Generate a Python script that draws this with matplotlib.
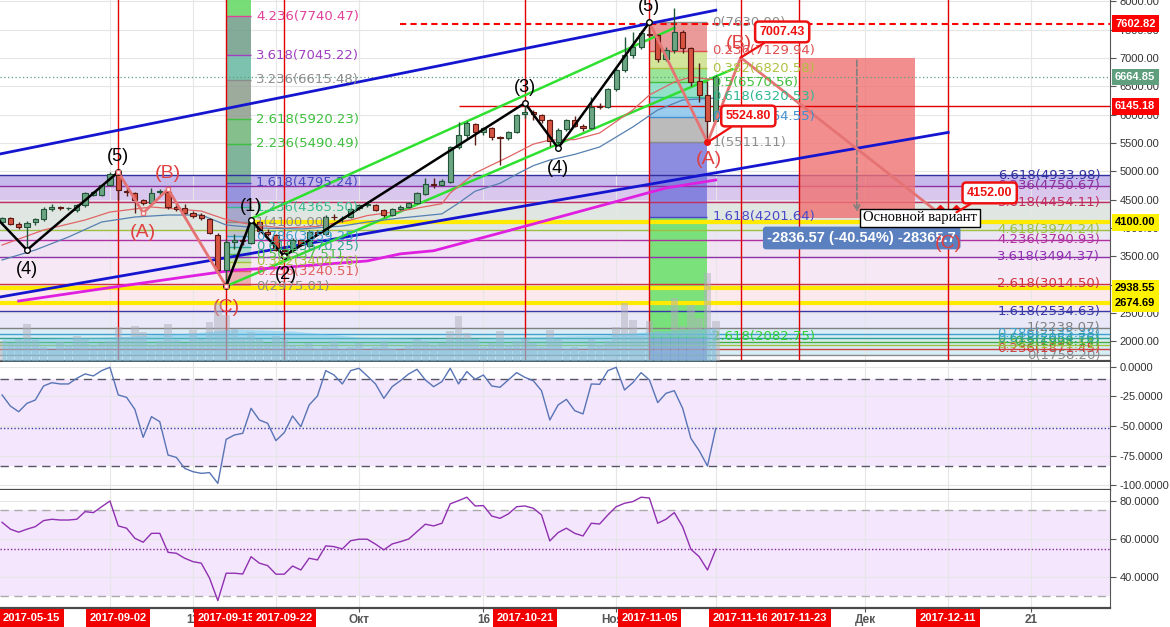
#!/usr/bin/env python3
# BTC/USD daily with Elliott wave markup, Williams %R and RSI panels

import numpy as np
import pandas as pd
import matplotlib
matplotlib.use("Agg")
import matplotlib.pyplot as plt
from matplotlib.patches import Rectangle

plt.rcParams["font.family"] = ["Liberation Sans", "DejaVu Sans"]

ORIGIN = pd.Timestamp("2017-10-01")

# daily candles 2017-08-19 .. 2017-11-13
first_day = "2017-08-19"
opens = [4110, 4175, 4065, 4015, 4100, 4155, 4335, 4365, 4350, 4320,
         4400, 4590, 4590, 4760, 4960, 4660, 4620, 4500, 4440, 4630,
         4640, 4370, 4350, 4260, 4225, 4160, 3880, 3260, 3760, 3790,
         3730, 4110, 3937, 3880, 3620, 3615, 3790, 3680, 3935, 3900,
         4200, 4170, 4190, 4350, 4410, 4407, 4319, 4230, 4331, 4366,
         4437, 4600, 4770, 4760, 4820, 5435, 5642, 5840, 5700, 5760,
         5600, 5583, 5700, 6012, 6040, 5995, 5906, 5524, 5742, 5906,
         5800, 5760, 6150, 6141, 6448, 6788, 7053, 7200, 7420, 7406,
         6977, 7141, 7464, 7170, 6600, 6347, 5894]
highs = [4190, 4200, 4100, 4120, 4180, 4370, 4420, 4390, 4380, 4420,
         4630, 4660, 4770, 4990, 4990, 4700, 4640, 4520, 4700, 4690,
         4690, 4400, 4420, 4300, 4260, 4180, 3920, 3800, 3900, 3860,
         4130, 4130, 3980, 3900, 3690, 3820, 3810, 3960, 3970, 4230,
         4240, 4220, 4360, 4420, 4450, 4420, 4340, 4350, 4400, 4460,
         4640, 4880, 4890, 4860, 5450, 5876, 5880, 5860, 5790, 5790,
         5620, 5720, 6020, 6206, 6080, 6020, 5930, 5760, 5920, 5980,
         5840, 6317, 6200, 6470, 6830, 7370, 7460, 7480, 7630, 7420,
         7200, 7880, 7500, 7200, 6912, 6600, 6700]
lows = [4050, 4050, 3990, 3610, 4060, 4130, 4300, 4310, 4320, 4280,
        4380, 4560, 4570, 4740, 4500, 4560, 4270, 4400, 4420, 4590,
        4330, 4300, 4240, 4180, 4140, 3890, 3200, 2975, 3630, 3700,
        3720, 3900, 3860, 3590, 3507, 3570, 3680, 3660, 3870, 3880,
        4140, 4110, 4170, 4320, 4380, 4300, 4200, 4210, 4320, 4350,
        4420, 4580, 4700, 4740, 4800, 5400, 5580, 5470, 5640, 5560,
        5110, 5560, 5680, 5950, 5900, 5850, 5450, 5412, 5720, 5780,
        5720, 5740, 6100, 6120, 6420, 6750, 7000, 7150, 7380, 6930,
        6940, 7080, 7080, 6500, 6224, 5511, 5880]
closes = [4175, 4070, 4015, 4095, 4160, 4330, 4365, 4350, 4355, 4400,
          4610, 4640, 4760, 4960, 4670, 4640, 4500, 4440, 4620, 4645,
          4370, 4340, 4260, 4210, 4170, 3910, 3260, 3760, 3790, 3770,
          4100, 3940, 3900, 3620, 3600, 3790, 3700, 3930, 3900, 4200,
          4190, 4180, 4330, 4400, 4420, 4320, 4230, 4330, 4375, 4437,
          4613, 4771, 4760, 4836, 5435, 5642, 5848, 5700, 5760, 5601,
          5590, 5700, 5995, 6040, 6010, 5906, 5530, 5730, 5906, 5800,
          5760, 6141, 6130, 6448, 6788, 7053, 7200, 7436, 7410, 6977,
          7141, 7464, 7170, 6582, 6347, 5894, 6664.85]
volume_k = [20, 18, 22, 37, 21, 14, 11, 19, 16, 25,
            22, 16, 18, 20, 34, 24, 35, 29, 16, 20,
            37, 21, 18, 31, 22, 39, 58, 46, 32, 24,
            29, 22, 18, 25, 21, 16, 14, 18, 12, 15,
            20, 12, 14, 18, 10, 14, 20, 12, 11, 16,
            22, 20, 16, 18, 30, 45, 28, 22, 14, 18,
            30, 16, 20, 22, 18, 14, 31, 22, 12, 14,
            10, 22, 16, 20, 34, 58, 41, 25, 40, 30,
            28, 63, 35, 56, 43, 88, 40]
wpr = [-23.7, -33.1, -37.9, -30.8, -28.0, -16.1, -13.3, -14.4, -14.4, -9.6,
       -5.9, -7.6, -3.1, -0.3, -23.7, -25.7, -35.9, -59.6, -42.1, -46.3,
       -74.6, -76.6, -85.9, -88.7, -90.1, -89.5, -98.6, -61.3, -57.6, -56.2,
       -35.0, -44.9, -47.7, -62.4, -55.6, -41.5, -50.6, -32.2, -24.6, -3.1,
       -6.8, -14.4, -3.1, -1.1, -7.6, -14.4, -26.6, -16.7, -11.6, -5.9,
       -2.0, -11.0, -16.7, -12.4, -1.1, -14.4, -3.9, -10.5, -6.8, -16.1,
       -17.2, -11.0, -4.8, -8.8, -11.6, -20.1, -44.9, -32.2, -27.4, -37.0,
       -39.8, -14.4, -14.7, -3.1, -0.3, -19.5, -13.3, -4.8, -11.0, -30.2,
       -22.3, -20.1, -35.0, -60.5, -70.9, -83.9, -52.0]
rsi = [68.6, 65.0, 63.4, 65.0, 66.3, 69.5, 70.2, 69.8, 69.8, 70.2,
       74.2, 73.7, 76.8, 79.8, 66.7, 65.5, 60.2, 58.1, 62.8, 62.8,
       52.8, 52.3, 49.7, 47.9, 47.1, 39.2, 27.4, 41.8, 41.8, 41.4,
       50.5, 47.1, 45.8, 41.3, 41.3, 45.6, 43.5, 49.7, 48.8, 56.2,
       55.8, 54.6, 58.9, 59.7, 59.7, 57.1, 54.1, 57.2, 58.4, 59.8,
       63.7, 67.6, 66.7, 68.1, 78.3, 80.0, 81.8, 77.2, 77.4, 71.9,
       70.7, 73.0, 76.8, 77.2, 76.0, 72.5, 58.8, 63.2, 65.5, 62.8,
       61.4, 68.1, 67.7, 72.5, 76.8, 78.6, 79.5, 81.8, 81.4, 68.1,
       70.2, 73.7, 66.3, 54.4, 50.5, 43.5, 54.4]
wpr_bands = [-10, -84]
wpr_mid = -51.5
rsi_bands = [30, 75]
rsi_mid = 54.5

# moving averages
ma_red_dates = ["2017-08-19", "2017-08-24", "2017-08-29", "2017-09-01", "2017-09-06", "2017-09-12",
                "2017-09-15", "2017-09-18", "2017-09-22", "2017-09-26", "2017-09-30", "2017-10-02",
                "2017-10-06", "2017-10-11", "2017-10-12", "2017-10-15", "2017-10-19", "2017-10-22",
                "2017-10-24", "2017-10-27", "2017-10-30", "2017-11-03", "2017-11-05", "2017-11-08",
                "2017-11-10", "2017-11-13"]
ma_red = [3700, 3966, 4142, 4283, 4372, 4300, 4150, 4060, 4000, 4030, 4142, 4220, 4300,
          4430, 4618, 4971, 5254, 5480, 5553, 5560, 5677, 6083, 6347, 6577, 6665, 6612]
ma_blue_dates = ["2017-08-19", "2017-08-23", "2017-08-27", "2017-08-31", "2017-09-04", "2017-09-08",
                 "2017-09-12", "2017-09-15", "2017-09-19", "2017-09-24", "2017-09-29", "2017-10-02",
                 "2017-10-06", "2017-10-11", "2017-10-13", "2017-10-15", "2017-10-18", "2017-10-20",
                 "2017-10-22", "2017-10-24", "2017-10-27", "2017-10-30", "2017-11-03", "2017-11-06",
                 "2017-11-09", "2017-11-13"]
ma_blue = [3437, 3613, 3842, 4107, 4195, 4230, 4230, 4054, 4001, 3984, 4036, 4107, 4177,
           4250, 4440, 4650, 4790, 4950, 5100, 5200, 5300, 5430, 5783, 6083, 6259, 6294]
ma_long_dates = ["2017-08-21", "2017-08-30", "2017-09-10", "2017-09-16", "2017-09-21", "2017-10-02",
                 "2017-10-06", "2017-10-10", "2017-10-18", "2017-10-26", "2017-11-03", "2017-11-07",
                 "2017-11-13"]
ma_long = [2713, 2907, 3137, 3260, 3296, 3420, 3545, 3600, 3913, 4230, 4548, 4707, 4848]
vol_ma_dates = ["2017-08-19", "2017-09-01", "2017-09-11", "2017-09-16", "2017-09-23", "2017-10-01",
                "2017-10-11", "2017-10-21", "2017-10-31", "2017-11-06", "2017-11-13"]
vol_ma = [22, 24, 28, 32, 30, 24, 22, 24, 26, 30, 33]

# fibonacci tools
fib1_levels = ["0", "0.236", "0.382", "0.5", "0.618", "0.786", "1", "1.236", "1.618",
               "2.236", "2.618", "3.236", "3.618", "4.236"]
fib1_prices = [2975.01, 3240.51, 3404.76, 3537.51, 3670.25, 3859.25, 4100.00, 4365.50,
               4795.24, 5490.49, 5920.23, 6615.48, 7045.22, 7740.47]
fib1_colors = ["#8c8c8c", "#e06060", "#a8c040", "#4cbf4c", "#30a890", "#3fa0c8", "#8c8c8c",
               "#38b890", "#4848c0", "#40c040", "#40c040", "#8c8c8c", "#a040c0", "#e0409a"]
fib1_bands = ["#e8a4a8", "#d8e4a8", "#b8e0b0", "#a8dcc8", "#a8d0e8", "#b8bcc8", "#9c9cc8",
              "#8c8cdc", "#6aa88a", "#70b478", "#8c9c8c", "#66b8a0", "#6e9c88", "#60d860"]
fib1_span = ["2017-09-15", "2017-09-18"]

fib2_levels = ["0", "0.236", "0.382", "0.5", "0.618", "0.786", "1", "1.618", "2.618"]
fib2_prices = [7630.00, 7129.94, 6820.58, 6570.56, 6320.53, 5964.55, 5511.11, 4201.64, 2082.75]
fib2_colors = ["#8c8c8c", "#e05050", "#b0c040", "#40c040", "#30b890", "#4090d0", "#8c8c8c",
               "#4848c8", "#30d030"]
fib2_bands = ["#e88888", "#cce08a", "#88e088", "#80dcc0", "#88c4ec", "#b0b0b0", "#7878dc",
              "#66e066", "#8a80d8"]
fib2_span = ["2017-11-05", "2017-11-12"]

fib3_levels = ["0", "0.236", "0.382", "0.5", "0.618", "0.786", "1", "1.618", "2.618",
               "3.618", "4.236", "4.618", "5.618", "6.236", "6.618"]
fib3_prices = [1758.20, 1871.45, 1941.51, 1998.14, 2054.76, 2135.38, 2238.07, 2534.63,
               3014.50, 3494.37, 3790.93, 3974.24, 4454.11, 4750.67, 4933.98]
fib3_colors = ["#8c8c8c", "#d04040", "#a0c040", "#40b040", "#30a090", "#40a0d0", "#808080",
               "#3838a8", "#d03040", "#9030b0", "#b030a0", "#9cc040", "#c03060", "#9030a0",
               "#3030a0"]
fib3_bands = ["#d6edf5", "#d6edf5", "#d6edf5", "#d6edf5", "#d6edf5", "#dcecf6", "#e8e8f8",
              "#fbe9ee", "#f6e8f4", "#f1e3f4", "#ebe6f4", "#e0e6e2", "#d9c7ee", "#c6baec"]

# elliott waves
wave_l_dates = ["2017-08-18", "2017-08-22", "2017-09-02"]
wave_l = [4230, 3613, 4990]
abc_l_dates = ["2017-09-02", "2017-09-05", "2017-09-08", "2017-09-15"]
abc_l = [4990, 4266, 4689, 2975.01]
impulse_dates = ["2017-09-15", "2017-09-18", "2017-09-22", "2017-10-21", "2017-10-25", "2017-11-05"]
impulse = [2975.01, 4140, 3507, 6206, 5412, 7630]
abc_r_dates = ["2017-11-05", "2017-11-12", "2017-11-16", "2017-12-10"]
abc_r = [7630, 5511.11, 7007.43, 4250]

black_labels = ["(4)", "(5)", "(1)", "(2)", "(3)", "(4)", "(5)"]
black_label_dates = ["2017-08-22", "2017-09-02", "2017-09-18", "2017-09-22", "2017-10-21",
                     "2017-10-25", "2017-11-05"]
black_label_prices = [3613, 4990, 4140, 3507, 6206, 5412, 7630]
black_label_off = [(0, -19), (0, 15), (0, 14), (2, -18), (0, 16), (0, -20), (0, 16)]
red_labels = ["(A)", "(B)", "(C)", "(A)", "(B)", "(C)"]
red_label_dates = ["2017-09-05", "2017-09-08", "2017-09-15", "2017-11-12", "2017-11-16", "2017-12-10"]
red_label_prices = [4266, 4689, 2975.01, 5511.11, 7007.43, 4250]
red_label_off = [(0, -20), (0, 16), (0, -21), (1, -17), (-2, 14), (8, -30)]

# trend channels
blue_up_dates, blue_up = ["2017-08-18", "2017-11-13"], [5285, 7843]
blue_lo_dates, blue_lo = ["2017-08-18", "2017-12-11"], [2765, 5687]
green_up_dates, green_up = ["2017-09-18", "2017-11-08"], [4165, 7530]
green_lo_dates, green_lo = ["2017-09-15", "2017-11-15"], [2975.01, 6800]

# vertical marker lines and bottom date tags
vline_dates = ["2017-09-02", "2017-09-15", "2017-09-22", "2017-10-21", "2017-11-05",
               "2017-11-16", "2017-11-23", "2017-12-11"]
tick_dates = ["2017-09-01", "2017-09-11", "2017-09-21", "2017-10-01", "2017-10-16",
              "2017-11-01", "2017-11-13", "2017-12-01", "2017-12-11", "2017-12-21"]
tick_names = ["Сен", "11", "21", "Окт", "16", "Нояб", "13", "Дек", "11", "21"]

price_tags = [7602.82, 6664.85, 6145.18, 4100.00, 2938.55, 2674.69]
tag_bg = ["#ff0000", "#5f9f7d", "#ff0000", "#fff200", "#fff200", "#fff200"]
tag_fg = ["white", "white", "white", "black", "black", "black"]

target_top, target_bottom = 7007.43, 4170.86
target_span = ["2017-11-23", "2017-12-07"]


def dnum(s):
    return np.asarray((pd.to_datetime(s) - ORIGIN) / pd.Timedelta(days=1), dtype=float)


def panel(top, bottom):
    return [0, (627 - bottom) / 627, 1110 / 1170, (bottom - top) / 627]


fig = plt.figure(figsize=(11.7, 6.27), dpi=100)
fig.patch.set_facecolor("white")
ax = fig.add_axes(panel(0, 361))
ax_wr = fig.add_axes(panel(362, 490), sharex=ax)
ax_rsi = fig.add_axes(panel(490, 608), sharex=ax)
ax_vol = ax.twinx()

XMIN, XMAX = -43.25, 90.5
ax.set_xlim(XMIN, XMAX)
ax.set_ylim(1655, 8023)

x = dnum(pd.date_range(first_day, periods=len(opens)))
o, h, l, c = map(np.array, (opens, highs, lows, closes))
up = c >= o

# background fib bands (full width)
for i in range(len(fib3_prices) - 1):
    ax.axhspan(fib3_prices[i], fib3_prices[i + 1], color=fib3_bands[i], lw=0, zorder=0.2)
for p, col in zip(fib3_prices, fib3_colors):
    ax.axhline(p, color=col, lw=1, zorder=1.2)
for lev, p, col in zip(fib3_levels, fib3_prices, fib3_colors):
    ax.text(dnum("2017-12-29 08:00"), p, f"{lev}({p:.2f})", color=col, fontsize=9.5,
            family="DejaVu Sans", ha="right", va="center", zorder=6)

# left fib column
fx = dnum(fib1_span)
edges1 = fib1_prices + [8100]
for i, col in enumerate(fib1_bands):
    ax.fill_between(fx, edges1[i], edges1[i + 1], color=col, alpha=0.85, lw=0, zorder=1)
for p, col in zip(fib1_prices, fib1_colors):
    ax.hlines(p, fx[0], fx[1], color=col, lw=1, zorder=1.1)
for lev, p, col in zip(fib1_levels, fib1_prices, fib1_colors):
    ax.text(fx[1] + 0.6, p, f"{lev}({p:.2f})", color=col, fontsize=9.5, family="DejaVu Sans",
            ha="left", va="center", zorder=6)

# right fib column
gx = dnum(fib2_span)
edges2 = fib2_prices + [1600]
for i, col in enumerate(fib2_bands):
    ax.fill_between(gx, edges2[i], edges2[i + 1], color=col, alpha=0.85, lw=0, zorder=1)
for p, col in zip(fib2_prices, fib2_colors):
    ax.hlines(p, gx[0], gx[1], color=col, lw=1, zorder=1.1)
for lev, p, col in zip(fib2_levels, fib2_prices, fib2_colors):
    ax.text(gx[1] + 0.6, p, f"{lev}({p:.2f})", color=col, fontsize=9.5, family="DejaVu Sans",
            ha="left", va="center", zorder=6)

# grid
ticks_x = dnum(tick_dates)
for a in (ax, ax_wr, ax_rsi):
    a.set_axisbelow(True)
    a.set_xticks(ticks_x)
    a.grid(True, color="#e6e6e6", lw=0.8)

# horizontal levels
ax.hlines(7602.82, dnum("2017-10-06"), XMAX, color="#ff0000", ls=(0, (3, 2)), lw=1.5, zorder=2)
ax.hlines(6145.18, dnum("2017-10-13"), XMAX, color="#e00000", lw=1, zorder=2)
ax.axhline(6664.85, color="#5f9f7d", ls=(0, (1, 2)), lw=0.9, zorder=2)
ax.hlines(4100.00, dnum("2017-09-18"), XMAX, color="#ffea00", lw=3, zorder=2)
ax.axhline(2938.55, color="#ffea00", lw=3, zorder=2)
ax.axhline(2674.69, color="#ffea00", lw=3, zorder=2)

# vertical red markers
for d in dnum(vline_dates):
    ax.axvline(d, color="#e00000", lw=1, zorder=2)

# target box
tx = dnum(target_span)
ax.add_patch(Rectangle((tx[0], target_bottom), tx[1] - tx[0], target_top - target_bottom,
                       fc="#f07272", ec="none", alpha=0.8, zorder=1.5))
ax.annotate("", xy=(dnum("2017-11-30"), target_bottom + 60), xytext=(dnum("2017-11-30"), target_top),
            arrowprops=dict(arrowstyle="->", color="#808080", ls="--", lw=1.2), zorder=2)

# channels and moving averages
ax.plot(dnum(blue_up_dates), blue_up, color="#1515d0", lw=2, zorder=3)
ax.plot(dnum(blue_lo_dates), blue_lo, color="#1515d0", lw=2, zorder=3)
ax.plot(dnum(green_up_dates), green_up, color="#30e030", lw=1.8, zorder=3)
ax.plot(dnum(green_lo_dates), green_lo, color="#30e030", lw=1.8, zorder=3)
ax.plot(dnum(ma_long_dates), ma_long, color="#e020e0", lw=2, zorder=3)
ax.plot(dnum(ma_red_dates), ma_red, color="#e06666", lw=0.9, zorder=3)
ax.plot(dnum(ma_blue_dates), ma_blue, color="#5580b0", lw=0.9, zorder=3)

# candles
wick_col = np.where(up, "#225437", "#5b1a13")
body_col = np.where(up, "#6ba583", "#d75442")
ax.vlines(x, l, h, colors=wick_col, lw=1, zorder=4)
ax.bar(x, np.maximum(np.abs(c - o), 8), bottom=np.minimum(o, c), width=0.62, color=body_col,
       edgecolor=wick_col, linewidth=0.8, zorder=5)

# waves
ax.plot(dnum(wave_l_dates), wave_l, color="black", lw=1.8, zorder=5.5)
ax.plot(dnum(impulse_dates), impulse, color="black", lw=1.8, zorder=5.5)
ax.plot(dnum(abc_l_dates), abc_l, color="#e57373", lw=2, zorder=5.5)
ax.plot(dnum(abc_r_dates), abc_r, color="#e57373", lw=2, zorder=5.5)
ax.plot(dnum(impulse_dates), impulse, "o", ms=4, mfc="white", mec="black", zorder=5.6)
ax.plot(dnum(wave_l_dates[1:]), wave_l[1:], "o", ms=4, mfc="white", mec="black", zorder=5.6)
ax.plot(dnum(abc_l_dates), abc_l, "s", ms=3.5, mfc="white", mec="#e57373", zorder=5.6)
ax.plot(dnum(abc_r_dates[1:2]), abc_r[1:2], "o", ms=4, color="#ee1111", zorder=5.6)
ax.plot(dnum(["2017-12-10", "2017-12-12"]), [4280, 4280], "D", ms=7, color="#ee1111", zorder=5.6)

for t, d, p, off in zip(black_labels, dnum(black_label_dates), black_label_prices, black_label_off):
    ax.annotate(t, (d, p), xytext=off, textcoords="offset pixels", ha="center", va="center",
                fontsize=13, color="black", zorder=7, annotation_clip=False)
for t, d, p, off in zip(red_labels, dnum(red_label_dates), red_label_prices, red_label_off):
    ax.annotate(t, (d, p), xytext=off, textcoords="offset pixels", ha="center", va="center",
                fontsize=14, color="#e04040", zorder=8, annotation_clip=False)

# measure label and note
ax.text(dnum("2017-11-30 14:00"), 3825, "-2836.57 (-40.54%) -28365.7", color="white",
        fontsize=10.5, fontweight="bold", ha="center", va="center", zorder=7,
        bbox=dict(boxstyle="round,pad=0.3,rounding_size=0.2", fc="#5b80c0", ec="none"))
ax.text(dnum("2017-12-07 14:00"), 4178, "Основной вариант", family="Liberation Serif",
        fontsize=10.5, ha="center", va="center", zorder=9,
        bbox=dict(boxstyle="square,pad=0.2", fc="white", ec="black", lw=1))

# callouts
callouts = [("7007.43", "2017-11-16", 7007.43, "2017-11-21", 7460),
            ("5524.80", "2017-11-12", 5511.11, "2017-11-16 22:00", 5977),
            ("4152.00", "2017-12-12", 4280, "2017-12-16", 4620)]
for txt, pd_, pp, td, tp in callouts:
    ax.annotate(txt, (dnum(pd_), pp), xytext=(dnum(td), tp), ha="center", va="center",
                fontsize=9, fontweight="bold", color="#ee1111", zorder=9,
                bbox=dict(boxstyle="round,pad=0.35,rounding_size=0.3", fc="white", ec="#ee1111", lw=1.8),
                arrowprops=dict(arrowstyle="-", color="#ee1111", lw=1.6, shrinkA=0, shrinkB=0))

# volume
ax_vol.bar(x, volume_k, width=0.9, color="#b0b0bc", alpha=0.5, zorder=1)
ax_vol.fill_between(dnum(vol_ma_dates), 0, vol_ma, color="#6cc4e8", alpha=0.45, lw=0)
ax_vol.set_ylim(0, 361)
ax_vol.set_xlim(XMIN, XMAX)
ax_vol.axis("off")

# price axis
ax.yaxis.tick_right()
ax.set_yticks(np.arange(2000, 8001, 500))
ax.set_yticklabels([f"{v:.2f}" for v in np.arange(2000, 8001, 500)])
for p, bg, fg in zip(price_tags, tag_bg, tag_fg):
    ax.annotate(f"{p:.2f}", (1, p), xycoords=("axes fraction", "data"), xytext=(5, 0),
                textcoords="offset pixels", ha="left", va="center", fontsize=8, color=fg,
                fontweight="bold", zorder=10, annotation_clip=False,
                bbox=dict(boxstyle="square,pad=0.3", fc=bg, ec="none"))

# Williams %R
ax_wr.axhspan(wpr_bands[1], wpr_bands[0], color="#f3e6fd", lw=0, zorder=0.1)
for b in wpr_bands:
    ax_wr.axhline(b, color="#555566", ls=(0, (6, 4)), lw=1)
ax_wr.axhline(wpr_mid, color="#4040a0", ls=(0, (1, 1.5)), lw=1)
ax_wr.plot(x, wpr, color="#5874b4", lw=1)
ax_wr.set_ylim(-104.2, 4.2)
ax_wr.yaxis.tick_right()
ax_wr.set_yticks([0, -25, -50, -75, -100])
ax_wr.set_yticklabels(["0.0000", "-25.0000", "-50.0000", "-75.0000", "-100.0000"])

# RSI
ax_rsi.axhspan(rsi_bands[0], rsi_bands[1], color="#f3e6fd", lw=0, zorder=0.1)
for b in rsi_bands:
    ax_rsi.axhline(b, color="#aaaaaa", ls=(0, (6, 4)), lw=1)
ax_rsi.axhline(rsi_mid, color="#8a2a9a", ls=(0, (1, 1.5)), lw=1)
ax_rsi.plot(x, rsi, color="#9030b0", lw=1)
ax_rsi.set_ylim(23.5, 85.6)
ax_rsi.yaxis.tick_right()
ax_rsi.set_yticks([80, 60, 40])
ax_rsi.set_yticklabels(["80.0000", "60.0000", "40.0000"])

for a in (ax, ax_wr, ax_rsi):
    a.spines["top"].set_visible(False)
    a.spines["left"].set_visible(False)
    a.spines["right"].set_color("#555555")
    a.spines["bottom"].set_color("#4a4a4a")
    a.spines["bottom"].set_linewidth(1.6)
    a.tick_params(axis="y", which="both", length=4, pad=3, labelsize=8, colors="#555555",
                  labelcolor="#333333")
for a in (ax, ax_wr):
    a.tick_params(axis="x", length=0, labelbottom=False)

ax_rsi.set_xticks(ticks_x)
ax_rsi.set_xticklabels(tick_names)
ax_rsi.tick_params(axis="x", length=3, pad=1.5, labelsize=8.5, colors="#555555", labelcolor="#555555")
for t in ax_rsi.get_xticklabels():
    t.set_fontweight("bold")
ax_rsi.set_xlim(XMIN, XMAX)

# red date tags under the axis
for d, name in zip(dnum(vline_dates), vline_dates):
    ax_rsi.annotate(name, (d, 0), xycoords=("data", "axes fraction"), xytext=(0, -10),
                    textcoords="offset pixels", ha="center", va="center", fontsize=8,
                    fontweight="bold", color="white", annotation_clip=False, zorder=10,
                    bbox=dict(boxstyle="square,pad=0.32", fc="#f20000", ec="none"))
ax_rsi.annotate("2017-05-15", (0, 0), xycoords="axes fraction", xytext=(3, -10),
                textcoords="offset pixels", ha="left", va="center", fontsize=8,
                fontweight="bold", color="white", annotation_clip=False, zorder=10,
                bbox=dict(boxstyle="square,pad=0.32", fc="#f20000", ec="none"))

fig.savefig("out.png", dpi=100, facecolor="white")
